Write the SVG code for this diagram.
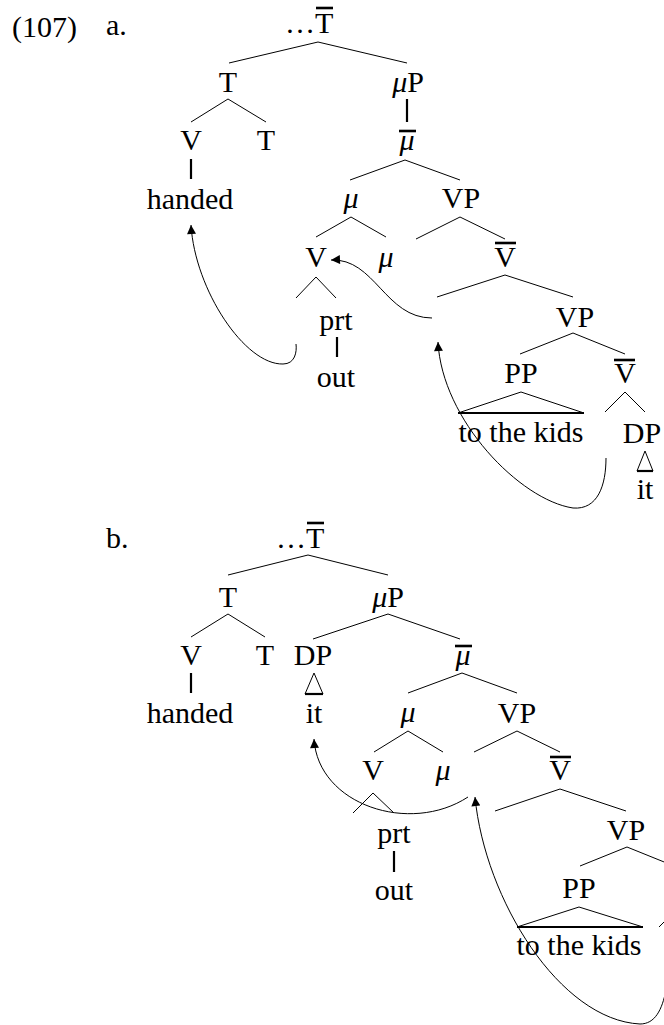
<svg xmlns="http://www.w3.org/2000/svg" width="664" height="1025" viewBox="0 0 664 1025">
<defs>
<style>
.t{font-family:"Liberation Serif","Times New Roman",serif;font-size:30px;fill:#000;text-anchor:middle}
.s{text-anchor:start}
.i{font-style:italic}
.e{stroke:#000;stroke-width:1;fill:none}
.u{stroke:#000;stroke-width:2.2;fill:none}
.ol{stroke:#000;stroke-width:2.6}
.mv{stroke:#000;stroke-width:1;fill:none;marker-start:url(#ah)}
</style>
<marker id="ah" viewBox="0 0 10 10" refX="10" refY="5" markerWidth="10" markerHeight="9" markerUnits="userSpaceOnUse" orient="auto-start-reverse"><path d="M0,0 L10,5 L0,10 z" fill="#000"/></marker>
</defs>
<rect width="664" height="1025" fill="#fff"/>
<g id="labels">
<text class="t s" x="12" y="37">(107)</text>
<text class="t s" x="106" y="35">a.</text>
<text class="t s" x="106" y="548">b.</text>
</g>
<!-- tree a -->
<g id="a-Tbar"><text class="t s" x="285" y="33">…T</text><line class="ol" x1="316" y1="8" x2="333" y2="8"/></g>
<g id="a-T"><text class="t" x="228" y="92">T</text></g>
<g id="a-muP"><text class="t" x="408" y="92"><tspan class="i">μ</tspan>P</text></g>
<g id="a-V"><text class="t" x="191" y="150">V</text></g>
<g id="a-T2"><text class="t" x="266" y="150">T</text></g>
<g id="a-mubar"><text class="t i" x="407" y="150">μ</text><line class="ol" x1="399" y1="131" x2="416" y2="131"/></g>
<g id="a-handed"><text class="t" x="190" y="209">handed</text></g>
<g id="a-mu"><text class="t i" x="351" y="208">μ</text></g>
<g id="a-VP"><text class="t" x="461" y="208">VP</text></g>
<g id="a-V2"><text class="t" x="316" y="267">V</text></g>
<g id="a-mu2"><text class="t i" x="386" y="267">μ</text></g>
<g id="a-Vbar"><text class="t" x="505" y="267">V</text><line class="ol" x1="495" y1="243" x2="516" y2="243"/></g>
<g id="a-prt"><text class="t" x="336" y="330">prt</text></g>
<g id="a-out"><text class="t" x="336" y="387">out</text></g>
<g id="a-VP2"><text class="t" x="575" y="327">VP</text></g>
<g id="a-PP"><text class="t" x="521" y="383">PP</text></g>
<g id="a-Vbar2"><text class="t" x="625" y="383">V</text><line class="ol" x1="614" y1="360" x2="635" y2="360"/></g>
<g id="a-kids"><text class="t" x="521" y="442">to the kids</text></g>
<g id="a-DP"><text class="t" x="642" y="443">DP</text></g>
<g id="a-it"><text class="t" x="645" y="499">it</text></g>
<!-- tree b -->
<g id="b-Tbar"><text class="t s" x="276" y="548">…T</text><line class="ol" x1="307" y1="523" x2="324" y2="523"/></g>
<g id="b-T"><text class="t" x="228" y="607">T</text></g>
<g id="b-muP"><text class="t" x="388" y="607"><tspan class="i">μ</tspan>P</text></g>
<g id="b-V"><text class="t" x="191" y="665">V</text></g>
<g id="b-T2"><text class="t" x="265" y="665">T</text></g>
<g id="b-DP"><text class="t" x="313" y="665">DP</text></g>
<g id="b-mubar"><text class="t i" x="463" y="665">μ</text><line class="ol" x1="455" y1="646" x2="472" y2="646"/></g>
<g id="b-handed"><text class="t" x="190" y="723">handed</text></g>
<g id="b-it"><text class="t" x="314" y="723">it</text></g>
<g id="b-mu"><text class="t i" x="408" y="722">μ</text></g>
<g id="b-VP"><text class="t" x="517" y="723">VP</text></g>
<g id="b-V2"><text class="t" x="373" y="780">V</text></g>
<g id="b-mu2"><text class="t i" x="443" y="780">μ</text></g>
<g id="b-Vbar"><text class="t" x="560" y="780">V</text><line class="ol" x1="550" y1="757" x2="571" y2="757"/></g>
<g id="b-prt"><text class="t" x="394" y="843">prt</text></g>
<g id="b-out"><text class="t" x="394" y="900">out</text></g>
<g id="b-VP2"><text class="t" x="626" y="840">VP</text></g>
<g id="b-PP"><text class="t" x="579" y="898">PP</text></g>
<g id="b-kids"><text class="t" x="579" y="955">to the kids</text></g>
<g id="connectors">
<!-- tree a edges -->
<path class="e" d="M229 63 L318 42 L407 63"/>
<path class="e" d="M191 122 L228 99 L266 122"/>
<line class="u" x1="407" y1="99" x2="407" y2="122"/>
<line class="u" x1="191" y1="159" x2="191" y2="179"/>
<path class="e" d="M350 180 L405 160 L460 180"/>
<path class="e" d="M316 237 L351 217 L386 237"/>
<path class="e" d="M416 239 L460 217 L505 239"/>
<path class="e" d="M296 298 L316 277 L336 298"/>
<path class="e" d="M437 297 L505 275 L573 297"/>
<line class="u" x1="337" y1="337" x2="337" y2="357"/>
<path class="e" d="M520 354 L573 333 L625 354"/>
<path class="e" d="M458 413 L521 392 L584 413"/>
<line class="u" x1="458" y1="413" x2="584" y2="413"/>
<path class="e" d="M605 412 L625 392 L645 412"/>
<path class="e" d="M637 471 L645 451 L653 471"/>
<line class="u" x1="637" y1="471" x2="653" y2="471"/>
<!-- tree a movement -->
<path class="mv" d="M191 225 C195 290 245 365 283 364 C295 364 297 352 296 344"/>
<path class="mv" d="M331 260 C375 258 385 318 432 318"/>
<path class="mv" d="M438 342 C442 420 520 500 573 508 C598 510 606 485 606 458"/>
<!-- tree b edges -->
<path class="e" d="M228 575 L308 555 L388 575"/>
<path class="e" d="M191 637 L228 614 L265 637"/>
<path class="e" d="M313 639 L388 614 L460 639"/>
<line class="u" x1="191" y1="673" x2="191" y2="693"/>
<path class="e" d="M305 694 L314 673 L323 694"/>
<line class="u" x1="305" y1="694" x2="323" y2="694"/>
<path class="e" d="M408 693 L462 673 L517 693"/>
<path class="e" d="M374 752 L408 731 L443 752"/>
<path class="e" d="M474 752 L517 731 L560 752"/>
<path class="e" d="M353 813 L373 793 L394 813"/>
<path class="e" d="M495 811 L560 789 L626 811"/>
<line class="u" x1="394" y1="851" x2="394" y2="872"/>
<path class="e" d="M580 866 L627 847 L679 868"/>
<path class="e" d="M517 927 L579 907 L643 927"/>
<line class="u" x1="517" y1="927" x2="643" y2="927"/>
<line class="e" x1="679" y1="907" x2="659" y2="927"/>
<!-- tree b movement -->
<path class="mv" d="M314 739 C318 805 410 835 468 797"/>
<path class="mv" d="M475 797 C485 900 560 1020 640 1024 C655 1024 662 1010 666 990"/>
</g>
</svg>
